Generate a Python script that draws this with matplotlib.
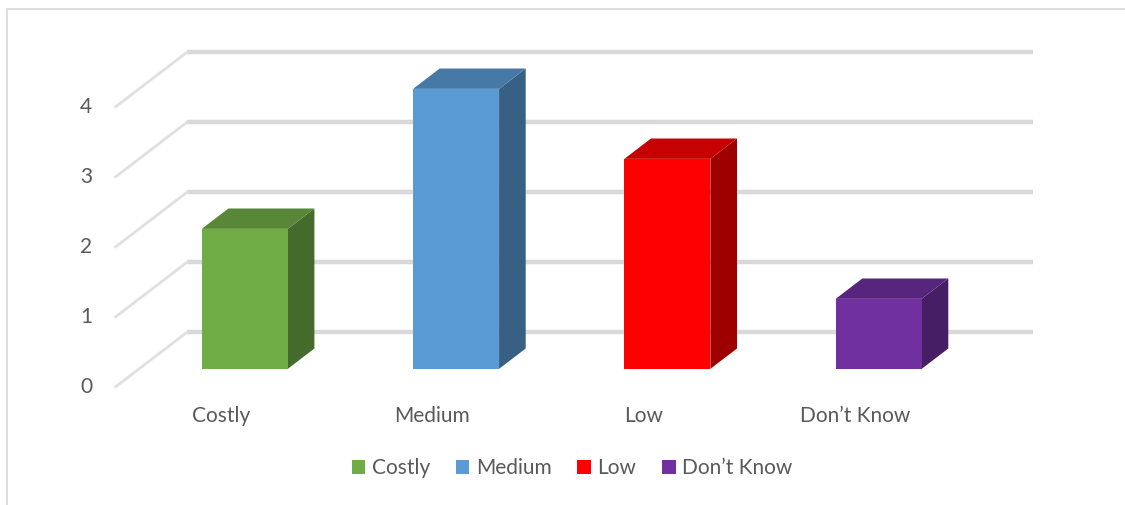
import numpy as np
import matplotlib.pyplot as plt
from matplotlib.patches import Polygon, Rectangle, Patch
from matplotlib.colors import to_rgb

categories = ["Costly", "Medium", "Low", "Don\u2019t Know"]
values = [2, 4, 3, 1]
colors = ["#70AD47", "#5B9BD5", "#FF0000", "#7030A0"]
y_ticks = [0, 1, 2, 3, 4]

W, H = 1125, 505
plt.rcParams['font.family'] = ['Lato', 'DejaVu Sans']
TEXT = "#595959"
GRID = "#D9D9D9"


def shade(c, k):
    r, g, b = to_rgb(c)
    return (r * k, g * k, b * k)


fig = plt.figure(figsize=(W / 100, H / 100), dpi=100)
ax = fig.add_axes([0, 0, 1, 1])

# front plane: category i at px 221 + 211.3*i, value v at px 387 - 70*v
x0, sx = 221, 211.3
y0, sy = 387, 70
ax.set_xlim(-x0 / sx, (W - x0) / sx)
ax.set_ylim((y0 - H) / sy, y0 / sy)
ax.axis('off')

# full-depth offset of the floor, bar depth range and width
DX = 72 / sx
DY = 55 / sy
f0, f1 = 0.33, 0.70
bw = 86 / sx
n = len(categories)

# back wall gridlines and side wall diagonals
for v in y_ticks:
    ax.plot([-0.5 + DX, n - 0.5 + DX], [v + DY, v + DY], color=GRID,
            lw=3.2, solid_capstyle='butt', zorder=1)
    ax.plot([-0.5, -0.5 + DX], [v, v + DY], color="#E0E0E0",
            lw=2.0, solid_capstyle='round', zorder=1)
    ax.text(-0.5 - 0.11, v, str(v), ha='right', va='center',
            fontsize=15, color=TEXT)

# 3d bars
for i, (val, c) in enumerate(zip(values, colors)):
    xl = i - bw / 2 + f0 * DX
    xr = xl + bw
    yb = f0 * DY
    yt = yb + val
    ddx = (f1 - f0) * DX
    ddy = (f1 - f0) * DY
    side = Polygon([(xr, yb), (xr + ddx, yb + ddy), (xr + ddx, yt + ddy), (xr, yt)],
                   closed=True, facecolor=shade(c, 0.62), lw=0, zorder=3)
    top = Polygon([(xl, yt), (xr, yt), (xr + ddx, yt + ddy), (xl + ddx, yt + ddy)],
                  closed=True, facecolor=shade(c, 0.78), lw=0, zorder=3)
    front = Rectangle((xl, yb), bw, val, facecolor=c, lw=0, zorder=4)
    ax.add_patch(side)
    ax.add_patch(top)
    ax.add_patch(front)
    ax.text(i, -0.41, categories[i], ha='center', va='center',
            fontsize=15, color=TEXT)

# chart border (cropped at right and bottom)
fig.add_artist(Rectangle((7 / W, -0.1), 1.2, 1 - 9 / H + 0.1, transform=fig.transFigure,
                         fill=False, edgecolor=GRID, lw=1.2))

handles = [Patch(facecolor=c, lw=0) for c in colors]
fig.legend(handles, categories, loc='center', bbox_to_anchor=(572 / W, 1 - 468 / H),
           ncol=4, frameon=False, fontsize=15, handlelength=0.65, handleheight=0.65,
           handletextpad=0.3, columnspacing=1.25, labelcolor=TEXT)

fig.savefig("out.png", dpi=100)
